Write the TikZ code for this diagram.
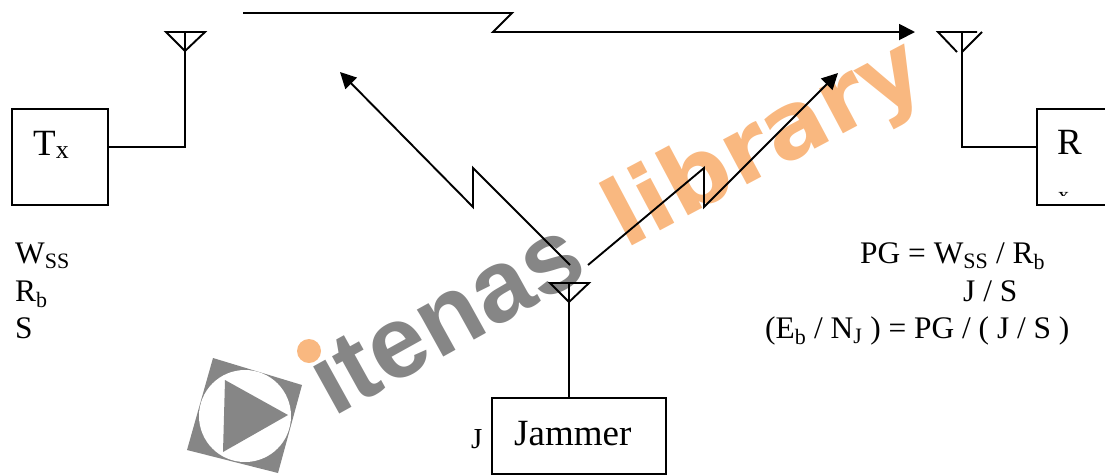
\documentclass[tikz,border=0pt]{standalone}
\usepackage{fontspec}
\setmainfont{Liberation Serif}
\newfontfamily\markfont{Liberation Sans}
\newfontfamily\wmarkfont{DejaVu Sans}
\usetikzlibrary{arrows.meta}
\definecolor{markgray}{HTML}{868686}
\definecolor{markorange}{HTML}{F9B880}
\tikzset{
    wire/.style={line width=1.9pt, line join=miter},
    link/.style={wire, -{Triangle[length=16pt, width=16pt]}},
    unitbox/.style={draw, rectangle, line width=1.9pt, inner sep=0pt},
    lbl/.style={anchor=base west, inner sep=0pt, font=\fontsize{31.4}{31.4}\selectfont},
    biglbl/.style={anchor=base west, inner sep=0pt, font=\fontsize{37}{37}\selectfont}
}
\begin{document}
\begin{tikzpicture}[x=1pt, y=-1pt]
        \useasboundingbox (0,0) rectangle (1105,475);
        % watermark
        \node[anchor=base west, inner sep=0pt, rotate=29, text=markgray, font=\markfont\bfseries\fontsize{102}{102}\selectfont] (itenas) at (333,418) {itenas};
        \node[anchor=base west, inner sep=0pt, rotate=28, text=markorange, font=\wmarkfont\bfseries\fontsize{93}{93}\selectfont] (library) at (625,250) {library};
        \fill[markorange] (309,351) circle (12);
        \fill[markgray] (213,358) -- (302,385) -- (278,473) -- (187,450) -- cycle;
        \fill[white] (245,416) circle (46);
        \fill[markgray] (225,380) -- (288,415) -- (223,452) -- cycle;
        % boxes
        \node[unitbox, minimum width=96pt, minimum height=96pt] (tx) at (60,157) {};
        \node[unitbox, minimum width=96pt, minimum height=96pt] (rx) at (1085,157) {};
        \node[unitbox, minimum width=174pt, minimum height=76pt] (jam) at (579,436) {};
        \node[biglbl] (txlbl) at (33,155) {T\textsubscript{x}};
        \node[biglbl] (rxlbl) at (1057,154) {R};
        \node[biglbl] (jamlbl) at (514,445) {Jammer};
        \begin{scope}
            \clip (1055,191) rectangle (1075,195);
            \node[lbl, font=\fontsize{22}{22}\selectfont] (rxsub) at (1058,202) {x};
        \end{scope}
        % antennas
        \coordinate (txant) at (185,51);
        \coordinate (rxant) at (962,52);
        \coordinate (jamant) at (569,302);
        \draw[wire] (tx.east |- 0,147) -| (txant);
        \draw[wire] (rx.west |- 0,147) -| (rxant);
        \draw[wire] (jam.north -| jamant) -- (jamant);
        \draw[wire] (txant) -- (166,32) -- (205,32) -- cycle;
        \draw[wire] (rxant) -- (982,32);
        \draw[wire] (957,52) -- (938,32) -- (977,32);
        \draw[wire] (962,32) -- (rxant);
        \draw[wire] (jamant) -- (550,283) -- (589,283) -- cycle;
        \draw[wire] (185,32) -- (txant);
        \draw[wire] (569,283) -- (jamant);
        % radio links
        \coordinate (linktop) at (243,13);
        \coordinate (rxtip) at (915,32);
        \coordinate (jamleft) at (570,265);
        \coordinate (txtip) at (340,72);
        \coordinate (jamright) at (588,265);
        \coordinate (rxtip2) at (838,73);
        \draw[link] (linktop) -- (512,13) -- (493,32) -- (rxtip);
        \draw[link] (jamleft) -- (473,168) -- (473,207) -- (txtip);
        \draw[link] (jamright) -- (704,168) -- (704,207) -- (rxtip2);
        % labels
        \node[lbl] (wss) at (15,263) {W\textsubscript{SS}};
        \node[lbl] (rb) at (15,301) {R\textsubscript{b}};
        \node[lbl] (s) at (15,338) {S};
        \node[lbl] (pg) at (860,263) {PG = W\textsubscript{SS} / R\textsubscript{b}};
        \node[lbl] (js) at (963,301) {J / S};
        \node[lbl] (ebnj) at (765,338) {(E\textsubscript{b} / N\textsubscript{J} ) = PG / ( J / S )};
        \node[lbl, font=\fontsize{29}{29}\selectfont] (j) at (471,448) {J};
    \end{tikzpicture}
\end{document}
